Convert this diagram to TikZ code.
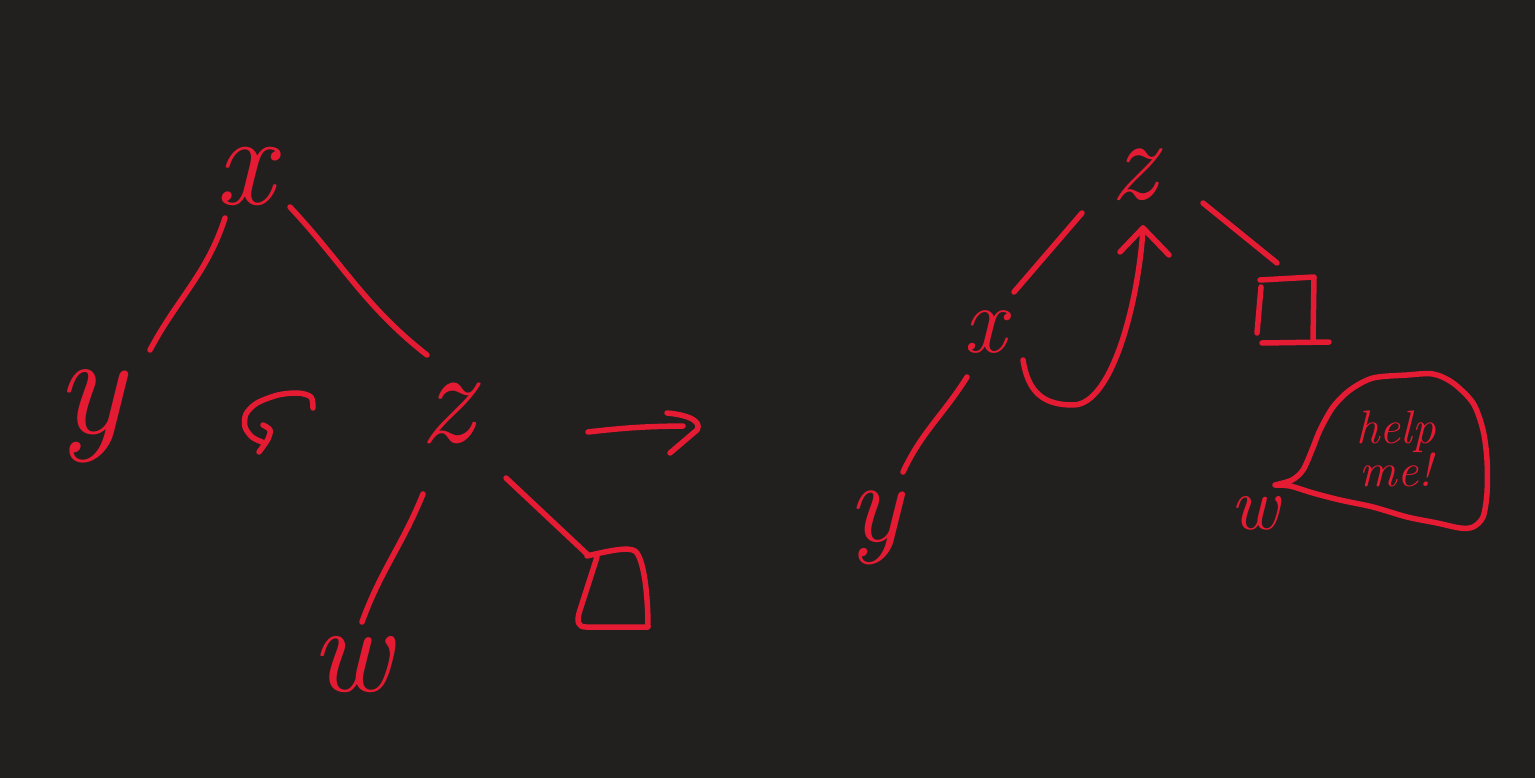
\documentclass[tikz,border=0pt]{standalone}
\usepackage{fontspec}
\usetikzlibrary{calc}
\definecolor{bgdark}{RGB}{33,32,31}
\definecolor{inkred}{RGB}{228,27,50}
\begin{document}
\begin{tikzpicture}[x=1pt,y=-1pt,
  ink/.style={draw=inkred, line width=5.5pt, line cap=round, line join=round},
  letter/.style={text=inkred, inner sep=0pt, font=\fontsize{#1}{#1}\selectfont\itshape},
  note/.style={text=inkred, inner sep=0pt, align=center, font=\fontsize{47}{42}\selectfont\itshape}]
\fill[bgdark] (0,0) rectangle (1535,778);
\useasboundingbox (0,0) rectangle (1535,778);

% ---------- left tree ----------
\node[letter=130] (lx) at (245,176) {x};
\node[letter=145] (ly) at (90,416) {y};
\node[letter=135] (lz) at (446,413) {z};
\node[letter=125] (lw) at (351,665) {w};
\coordinate (lsq) at (612,590);

\draw[ink] ($(lx)+(-20,42)$) to[out=252,in=62] ($(ly)+(60,-66)$);
\draw[ink] ($(lx)+(45,31)$) to[out=313,in=142] ($(lz)+(-19,-58)$);
\draw[ink] ($(lz)+(-23,81)$) to[out=248,in=70] ($(lw)+(11,-43)$);
\draw[ink] ($(lz)+(60,65)$) -- ($(lsq)+(-24,-35)$);

% subtree
\draw[ink] (597,557) -- (580,610) .. controls (576,622) and (578,627) .. (586,627)
  -- (648,627) .. controls (648,600) and (645,565) .. (637,553)
  .. controls (633,547) and (620,548) .. (587,556);

% rotation symbol
\draw[ink] plot[smooth] coordinates {(313,408) (311,397) (298,393) (278,395) (257,403) (246,414) (245,427) (252,437) (262,442)};
\draw[ink] plot[smooth] coordinates {(263,425) (270,430) (268,439) (259,452)};

% ---------- main arrow ----------
\coordinate (arrS) at (588,432);
\coordinate (arrE) at (683,426);
\draw[ink] (arrS) to[bend left=3] (arrE);
\draw[ink] ($(arrE)+(-16,-13)$) .. controls ($(arrE)+(7,-11)$) and ($(arrE)+(19,-4)$) .. ($(arrE)+(14,4)$) -- ($(arrE)+(-13,27)$);

% ---------- right tree ----------
\node[letter=115] (rz) at (1133,175) {z};
\node[letter=95] (rx) at (985,332) {x};
\node[letter=115] (ry) at (875,528) {y};
\node[letter=75] (rw) at (1255,513) {w};
\coordinate (rsq) at (1292,310);

\draw[ink] ($(rz)+(-51,38)$) -- ($(rx)+(29,-40)$);
\draw[ink] ($(rz)+(70,28)$) -- ($(rsq)+(-15,-47)$);
\draw[ink] ($(rx)+(-18,45)$) to[out=238,in=65] ($(ry)+(28,-56)$);

% subtree (open box)
\draw[ink] (1260,280) -- (1314,277) -- (1313,340);
\draw[ink] (1262,343) -- (1329,342);
\draw[ink] (1261,287) -- (1257,333);

% rotation arrow
\coordinate (rtip) at ($(rz)+(10,53)$);
\coordinate (rbot) at ($(rx)+(88,73)$);
\draw[ink] ($(rx)+(38,28)$) .. controls +(5,32) and +(-30,0) .. (rbot)
  .. controls +(40,0) and +(-4,70) .. (rtip);
\draw[ink] ($(rtip)+(-23,24)$) -- (rtip) -- ($(rtip)+(26,27)$);

% speech bubble
\draw[ink] plot[smooth] coordinates {(1275,485) (1292,480) (1303,470) (1312,450) (1320,430) (1333,407) (1350,390) (1373,378) (1407,375) (1433,374) (1453,383) (1473,403) (1483,430) (1487,460) (1487,493) (1483,517) (1473,527) (1460,528) (1437,523) (1407,517) (1373,507) (1340,500) (1313,493) (1290,486) (1275,485)};
\node[note] (help) at (1396,449) {help\\me!};
\end{tikzpicture}
\end{document}
